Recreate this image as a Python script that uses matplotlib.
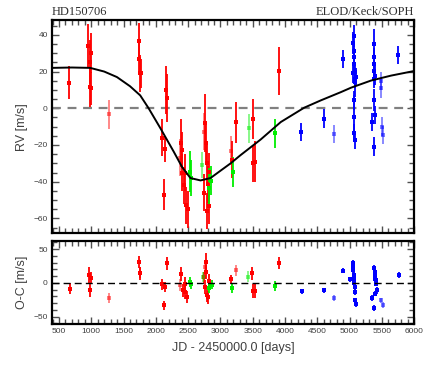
import matplotlib
matplotlib.use("Agg")
from matplotlib import pyplot as plt
from matplotlib.ticker import MultipleLocator

# ---- model curve
model_x = [391, 700, 982, 1200, 1397, 1600, 1758, 1888, 2069, 2276, 2406, 2535,
           2691, 2846, 3001, 3157, 3312, 3623, 3934, 4296, 4554, 4865, 5021,
           5332, 5643, 6000]
model_y = [22, 22.2, 22, 20, 17, 12, 7, 0, -10.8, -23.6, -32, -38,
           -39.3, -38, -34, -30, -25.5, -17, -7.5, 0.3, 4.3, 8.8, 11.2,
           15.1, 17.8, 20.3]

# ---- ELODIE (red)
elo_x = [660, 955, 990, 985, 980, 988, 1738, 1745, 1750, 1765, 2163, 2170, 2096,
         2147, 2121, 2395, 2400, 2410, 2440, 2455, 2460, 2490, 2765, 2775, 2790,
         2750, 2790, 2810, 2815, 2815, 3175, 3235, 3503, 3503, 3534, 3907]
elo_rv = [14, 34, 30, 25, 11.5, 11, 36.4, 27, 19, 19, 10, 5.5, -16,
          -22.3, -47, -19, -35, -22.7, -42, -35, -52.8, -55, -8, -19, -30,
          -46, -56, -41.5, -34.5, -53, -28, -7.7, -6, -30, -29, 20.2]
elo_err = [9, 12, 11, 12, 11, 9, 10, 9, 10, 8, 13, 13, 10,
           7, 8.5, 13, 10, 10, 10, 10, 10, 10, 16, 12, 12,
           10, 10, 10, 10, 10, 10, 11, 11, 10, 11, 13]
elo_faint_x = [1277, 2380, 2742, 3165]
elo_faint_rv = [-3.3, -27, -12.8, -23]
elo_faint_err = [8, 10, 10, 8]

# ---- Keck (green)
keck_x = [2525, 2545, 2820, 2857, 3193, 3845]
keck_rv = [-34.5, -38, -43.5, -39.5, -34.8, -13.7]
keck_err = [11, 10, 11, 8, 8, 8]
keck_faint_x = [2717, 3441]
keck_faint_rv = [-31, -11]
keck_faint_err = [7, 8]

# ---- SOPHIE (blue)
soph_x = [4244, 4606, 4892, 5050, 5060, 5065, 5070, 5072, 5075, 5078, 5080,
          5082, 5070, 5075, 5068, 5078, 5095, 5375, 5380, 5385, 5378, 5390,
          5383, 5385, 5390, 5340, 5382, 5756]
soph_rv = [-12.8, -5.6, 27, 19, 35.8, 24, 39.5, 31.4, 27.7, 19.6, 16,
           14.2, 4.3, -4.7, -13.3, -17.3, 17, 35, 27.7, 24.1, 20.5, 17.8,
           16, 4.3, -3.8, -7.4, -20.9, 29]
soph_err = [5, 5, 5, 5, 6, 5, 6, 5, 5, 5, 5,
            8, 5, 12, 5, 5, 5, 8, 5, 5, 5, 5,
            5, 6, 5, 5, 5, 5]
soph_faint_x = [4762, 5480, 5487, 5503, 5520]
soph_faint_rv = [-14, 15, 10.8, -10, -14.6]
soph_faint_err = [5, 5, 5, 5, 5]

# ---- residuals O-C
elo_oc_x = [671, 966, 997, 986, 1732, 1748, 1760, 2096, 2147, 2121, 2173, 2396,
            2422, 2447, 2458, 2484, 2753, 2784, 2784, 2768, 2795, 2820, 2800,
            3168, 3494, 3503, 3534, 3907]
elo_oc = [-8.5, 11.4, 7.5, -11, 30.3, 13.9, 15, -2, -6, -33.4, 28.8, 12.9,
          -11, -1, -13.4, -20.9, 8, 30.3, 16.4, -6, -18.5, 3.4, -21.5,
          5.4, 13.9, -12, -12, 28.8]
elo_oc_err = [8, 12, 9, 10, 9, 9, 8, 8, 8, 7, 10, 10,
              10, 10, 10, 9, 8, 14, 10, 10, 10, 10, 10,
              7, 9, 10, 10, 9]
elo_faint_oc_x = [1281, 2369, 2755, 3235]
elo_faint_oc = [-22.4, -3.5, 23, 18.8]
elo_faint_oc_err = [7, 9, 8, 8]

keck_oc_x = [2535, 2545, 2820, 2862, 3183, 3845]
keck_oc = [1.5, -2, -7.5, -2.5, -7.5, -4.5]
keck_oc_err = [7, 7, 8, 7, 8, 7]
keck_faint_oc_x = [2726, 3432]
keck_faint_oc = [9, 9]
keck_faint_oc_err = [7, 8]

soph_oc_x = [4255, 4606, 4892, 5048, 5055, 5060, 5065, 5070, 5075, 5080, 5085,
             5090, 5099, 5006, 5383, 5390, 5395, 5400, 5405, 5410, 5415, 5420,
             5400, 5383, 5343, 5762]
soph_oc = [-12.5, -11, 18, 28.8, 23.9, 18.8, 11.4, 6.4, 0.4, -6, -13.4,
           -26, -31, 5.4, 21.3, 16.4, 11.4, 6.4, 3.9, 1.5, -1, -11,
           -16, -37.3, -22.4, 11.4]
soph_oc_err = [4, 4, 4, 5, 5, 4, 5, 4, 5, 4, 5,
               4, 4, 4, 5, 5, 4, 5, 4, 5, 4, 5,
               4, 4, 4, 4]
soph_faint_oc_x = [4752, 5487, 5523]
soph_faint_oc = [-22.4, -26, -32.4]
soph_faint_oc_err = [4, 4, 4]

RED, GREEN, BLUE = "#ff0000", "#00ee00", "#0000ff"
TXT = "#404040"

fig = plt.figure(figsize=(4.36, 3.73), dpi=100)
ax1 = fig.add_axes([0.119, 0.375, 0.831, 0.571])
ax2 = fig.add_axes([0.119, 0.131, 0.831, 0.223])


def draw(ax, x, y, e, col, alpha=1.0):
    ax.errorbar(x, y, yerr=e, fmt="s", ms=3.2, color=col, ecolor=col,
                elinewidth=1.3, capsize=0, mew=0, alpha=alpha, zorder=3)


draw(ax1, elo_x, elo_rv, elo_err, RED)
draw(ax1, elo_faint_x, elo_faint_rv, elo_faint_err, RED, 0.5)
draw(ax1, keck_x, keck_rv, keck_err, GREEN)
draw(ax1, keck_faint_x, keck_faint_rv, keck_faint_err, GREEN, 0.5)
draw(ax1, soph_x, soph_rv, soph_err, BLUE)
draw(ax1, soph_faint_x, soph_faint_rv, soph_faint_err, BLUE, 0.5)
ax1.plot(model_x, model_y, color="black", lw=1.4, zorder=4)
ax1.axhline(0, color="#808080", lw=1.6, ls=(0, (4, 3)), zorder=2)

draw(ax2, elo_oc_x, elo_oc, elo_oc_err, RED)
draw(ax2, elo_faint_oc_x, elo_faint_oc, elo_faint_oc_err, RED, 0.5)
draw(ax2, keck_oc_x, keck_oc, keck_oc_err, GREEN)
draw(ax2, keck_faint_oc_x, keck_faint_oc, keck_faint_oc_err, GREEN, 0.5)
draw(ax2, soph_oc_x, soph_oc, soph_oc_err, BLUE)
draw(ax2, soph_faint_oc_x, soph_faint_oc, soph_faint_oc_err, BLUE, 0.5)
ax2.axhline(0, color="black", lw=1.0, ls=(0, (5, 3)), zorder=4)

ax1.set_xlim(390, 6000)
ax2.set_xlim(390, 6000)
ax1.set_ylim(-68, 48)
ax2.set_ylim(-61, 62)

for ax in (ax1, ax2):
    ax.xaxis.set_major_locator(MultipleLocator(500))
    ax.xaxis.set_minor_locator(MultipleLocator(100))
    ax.tick_params(which="both", direction="in", top=True, right=True,
                   color="#505050", width=1.0, labelsize=6,
                   labelcolor=TXT, pad=3)
    ax.tick_params(which="major", length=5)
    ax.tick_params(which="minor", length=3.5)
    for s in ax.spines.values():
        s.set_linewidth(1.6)

ax1.yaxis.set_major_locator(MultipleLocator(20))
ax1.yaxis.set_minor_locator(MultipleLocator(5))
ax2.yaxis.set_major_locator(MultipleLocator(50))
ax2.yaxis.set_minor_locator(MultipleLocator(10))
ax1.tick_params(labelbottom=False)

for ax in (ax1, ax2):
    for lab in ax.get_xticklabels() + ax.get_yticklabels():
        lab.set_family("Liberation Sans")

ax1.set_ylabel("RV [m/s]", fontsize=9, color=TXT, family="Liberation Sans",
               labelpad=4)
ax2.set_ylabel("O-C [m/s]", fontsize=9, color=TXT, family="Liberation Sans",
               labelpad=4)
ax2.set_xlabel("JD - 2450000.0 [days]", fontsize=9, color=TXT,
               family="Liberation Sans", labelpad=5)
fig.align_ylabels([ax1, ax2])

ax1.text(0.0, 1.01, "HD150706", transform=ax1.transAxes, ha="left",
         va="bottom", fontsize=9, color="#303030", family="Liberation Serif")
ax1.text(1.0, 1.01, "ELOD/Keck/SOPH", transform=ax1.transAxes, ha="right",
         va="bottom", fontsize=9, color="#303030", family="Liberation Serif")

plt.savefig("out.png", dpi=100)
